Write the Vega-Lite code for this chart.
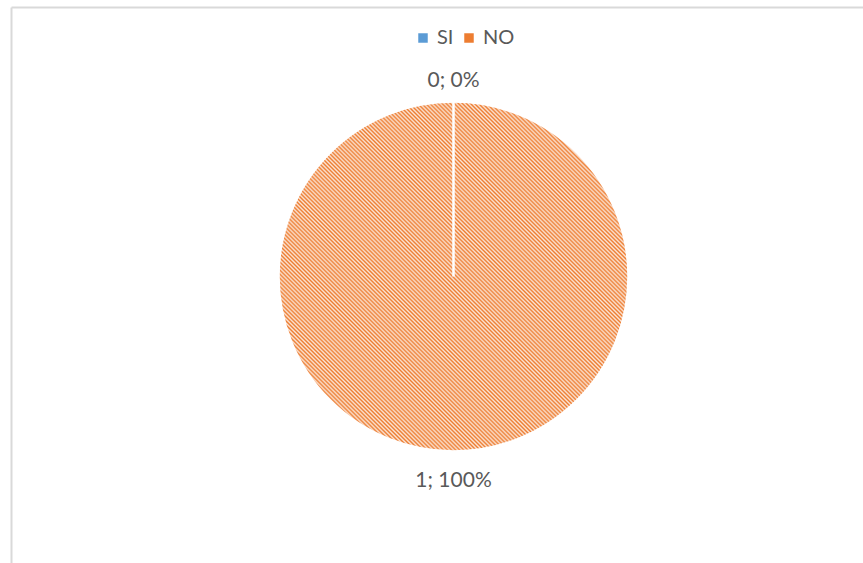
{
  "$schema": "https://vega.github.io/schema/vega-lite/v6.json",
  "width": 863,
  "height": 563,
  "autosize": {"type": "fit", "contains": "padding"},
  "padding": {"left": 11, "top": 7, "right": 0, "bottom": 0},
  "background": "white",
  "config": {"view": {"stroke": null}, "font": "Lato"},
  "data": {"values": [
    {"cat": "NO", "value": 1, "label": "1; 100%"},
    {"cat": "SI", "value": 0, "label": "0; 0%"}
  ]},
  "layer": [
    {
      "transform": [{"filter": "datum.value < 0"}],
      "mark": {"type": "square"},
      "encoding": {
        "x": {"field": "value", "type": "quantitative", "scale": {"domain": [0, 1]}, "axis": {"orient": "top", "domainColor": "#D9D9D9", "domainWidth": 2, "labels": false, "ticks": false, "grid": false, "title": null}},
        "y": {"field": "value", "type": "quantitative", "scale": {"domain": [0, 1]}, "axis": {"orient": "left", "domainColor": "#D9D9D9", "domainWidth": 2, "labels": false, "ticks": false, "grid": false, "title": null}},
        "color": {
          "field": "cat",
          "type": "nominal",
          "scale": {"domain": ["SI", "NO"], "range": ["#5B9BD5", "#ED7D31"]},
          "legend": {
            "orient": "none",
            "legendX": 402,
            "legendY": 21,
            "direction": "horizontal",
            "title": null,
            "symbolType": "square",
            "symbolSize": 90,
            "symbolStrokeWidth": 0,
            "symbolOpacity": 1,
            "labelFontSize": 20,
            "labelColor": "#595959",
            "labelFont": "Lato",
            "columnPadding": 5,
            "labelOffset": 4,
            "padding": 0
          }
        }
      }
    },
    {
      "mark": {"type": "arc", "outerRadius": 175, "stroke": "white", "strokeWidth": 2.5, "xOffset": 16.5, "yOffset": -8.5,
        "fill": {"gradient": "linear", "x1": 0, "y1": 1, "x2": 1, "y2": 0, "stops": [
{"offset":0,"color":"#ed7d31"},{"offset":0.0029,"color":"#fbe5d6"},{"offset":0.0058,"color":"#ed7d31"},{"offset":0.0087,"color":"#fbe5d6"},{"offset":0.0116,"color":"#ed7d31"},{"offset":0.0145,"color":"#fbe5d6"},{"offset":0.0174,"color":"#ed7d31"},{"offset":0.0203,"color":"#fbe5d6"},{"offset":0.0232,"color":"#ed7d31"},{"offset":0.0261,"color":"#fbe5d6"},
{"offset":0.029,"color":"#ed7d31"},{"offset":0.0319,"color":"#fbe5d6"},{"offset":0.0348,"color":"#ed7d31"},{"offset":0.0377,"color":"#fbe5d6"},{"offset":0.0406,"color":"#ed7d31"},{"offset":0.0435,"color":"#fbe5d6"},{"offset":0.0464,"color":"#ed7d31"},{"offset":0.0493,"color":"#fbe5d6"},{"offset":0.0522,"color":"#ed7d31"},{"offset":0.0551,"color":"#fbe5d6"},
{"offset":0.058,"color":"#ed7d31"},{"offset":0.0609,"color":"#fbe5d6"},{"offset":0.0638,"color":"#ed7d31"},{"offset":0.0667,"color":"#fbe5d6"},{"offset":0.0696,"color":"#ed7d31"},{"offset":0.0725,"color":"#fbe5d6"},{"offset":0.0754,"color":"#ed7d31"},{"offset":0.0783,"color":"#fbe5d6"},{"offset":0.0812,"color":"#ed7d31"},{"offset":0.0841,"color":"#fbe5d6"},
{"offset":0.087,"color":"#ed7d31"},{"offset":0.0899,"color":"#fbe5d6"},{"offset":0.0928,"color":"#ed7d31"},{"offset":0.0957,"color":"#fbe5d6"},{"offset":0.0986,"color":"#ed7d31"},{"offset":0.1015,"color":"#fbe5d6"},{"offset":0.1044,"color":"#ed7d31"},{"offset":0.1073,"color":"#fbe5d6"},{"offset":0.1102,"color":"#ed7d31"},{"offset":0.1131,"color":"#fbe5d6"},
{"offset":0.116,"color":"#ed7d31"},{"offset":0.1189,"color":"#fbe5d6"},{"offset":0.1218,"color":"#ed7d31"},{"offset":0.1247,"color":"#fbe5d6"},{"offset":0.1276,"color":"#ed7d31"},{"offset":0.1305,"color":"#fbe5d6"},{"offset":0.1334,"color":"#ed7d31"},{"offset":0.1363,"color":"#fbe5d6"},{"offset":0.1392,"color":"#ed7d31"},{"offset":0.1421,"color":"#fbe5d6"},
{"offset":0.145,"color":"#ed7d31"},{"offset":0.1479,"color":"#fbe5d6"},{"offset":0.1508,"color":"#ed7d31"},{"offset":0.1537,"color":"#fbe5d6"},{"offset":0.1566,"color":"#ed7d31"},{"offset":0.1595,"color":"#fbe5d6"},{"offset":0.1624,"color":"#ed7d31"},{"offset":0.1653,"color":"#fbe5d6"},{"offset":0.1682,"color":"#ed7d31"},{"offset":0.1711,"color":"#fbe5d6"},
{"offset":0.174,"color":"#ed7d31"},{"offset":0.1769,"color":"#fbe5d6"},{"offset":0.1798,"color":"#ed7d31"},{"offset":0.1827,"color":"#fbe5d6"},{"offset":0.1856,"color":"#ed7d31"},{"offset":0.1885,"color":"#fbe5d6"},{"offset":0.1914,"color":"#ed7d31"},{"offset":0.1943,"color":"#fbe5d6"},{"offset":0.1972,"color":"#ed7d31"},{"offset":0.2001,"color":"#fbe5d6"},
{"offset":0.203,"color":"#ed7d31"},{"offset":0.2059,"color":"#fbe5d6"},{"offset":0.2088,"color":"#ed7d31"},{"offset":0.2117,"color":"#fbe5d6"},{"offset":0.2146,"color":"#ed7d31"},{"offset":0.2175,"color":"#fbe5d6"},{"offset":0.2204,"color":"#ed7d31"},{"offset":0.2233,"color":"#fbe5d6"},{"offset":0.2262,"color":"#ed7d31"},{"offset":0.2291,"color":"#fbe5d6"},
{"offset":0.232,"color":"#ed7d31"},{"offset":0.2349,"color":"#fbe5d6"},{"offset":0.2378,"color":"#ed7d31"},{"offset":0.2407,"color":"#fbe5d6"},{"offset":0.2436,"color":"#ed7d31"},{"offset":0.2465,"color":"#fbe5d6"},{"offset":0.2494,"color":"#ed7d31"},{"offset":0.2523,"color":"#fbe5d6"},{"offset":0.2552,"color":"#ed7d31"},{"offset":0.2581,"color":"#fbe5d6"},
{"offset":0.261,"color":"#ed7d31"},{"offset":0.2639,"color":"#fbe5d6"},{"offset":0.2668,"color":"#ed7d31"},{"offset":0.2697,"color":"#fbe5d6"},{"offset":0.2726,"color":"#ed7d31"},{"offset":0.2755,"color":"#fbe5d6"},{"offset":0.2784,"color":"#ed7d31"},{"offset":0.2813,"color":"#fbe5d6"},{"offset":0.2842,"color":"#ed7d31"},{"offset":0.2871,"color":"#fbe5d6"},
{"offset":0.29,"color":"#ed7d31"},{"offset":0.2929,"color":"#fbe5d6"},{"offset":0.2958,"color":"#ed7d31"},{"offset":0.2987,"color":"#fbe5d6"},{"offset":0.3016,"color":"#ed7d31"},{"offset":0.3045,"color":"#fbe5d6"},{"offset":0.3074,"color":"#ed7d31"},{"offset":0.3103,"color":"#fbe5d6"},{"offset":0.3132,"color":"#ed7d31"},{"offset":0.3161,"color":"#fbe5d6"},
{"offset":0.319,"color":"#ed7d31"},{"offset":0.3219,"color":"#fbe5d6"},{"offset":0.3248,"color":"#ed7d31"},{"offset":0.3277,"color":"#fbe5d6"},{"offset":0.3306,"color":"#ed7d31"},{"offset":0.3335,"color":"#fbe5d6"},{"offset":0.3364,"color":"#ed7d31"},{"offset":0.3393,"color":"#fbe5d6"},{"offset":0.3422,"color":"#ed7d31"},{"offset":0.3451,"color":"#fbe5d6"},
{"offset":0.348,"color":"#ed7d31"},{"offset":0.3509,"color":"#fbe5d6"},{"offset":0.3538,"color":"#ed7d31"},{"offset":0.3567,"color":"#fbe5d6"},{"offset":0.3596,"color":"#ed7d31"},{"offset":0.3625,"color":"#fbe5d6"},{"offset":0.3654,"color":"#ed7d31"},{"offset":0.3683,"color":"#fbe5d6"},{"offset":0.3712,"color":"#ed7d31"},{"offset":0.3741,"color":"#fbe5d6"},
{"offset":0.377,"color":"#ed7d31"},{"offset":0.3799,"color":"#fbe5d6"},{"offset":0.3828,"color":"#ed7d31"},{"offset":0.3857,"color":"#fbe5d6"},{"offset":0.3886,"color":"#ed7d31"},{"offset":0.3915,"color":"#fbe5d6"},{"offset":0.3944,"color":"#ed7d31"},{"offset":0.3973,"color":"#fbe5d6"},{"offset":0.4002,"color":"#ed7d31"},{"offset":0.4031,"color":"#fbe5d6"},
{"offset":0.406,"color":"#ed7d31"},{"offset":0.4089,"color":"#fbe5d6"},{"offset":0.4118,"color":"#ed7d31"},{"offset":0.4147,"color":"#fbe5d6"},{"offset":0.4176,"color":"#ed7d31"},{"offset":0.4205,"color":"#fbe5d6"},{"offset":0.4234,"color":"#ed7d31"},{"offset":0.4263,"color":"#fbe5d6"},{"offset":0.4292,"color":"#ed7d31"},{"offset":0.4321,"color":"#fbe5d6"},
{"offset":0.435,"color":"#ed7d31"},{"offset":0.4379,"color":"#fbe5d6"},{"offset":0.4408,"color":"#ed7d31"},{"offset":0.4437,"color":"#fbe5d6"},{"offset":0.4466,"color":"#ed7d31"},{"offset":0.4495,"color":"#fbe5d6"},{"offset":0.4524,"color":"#ed7d31"},{"offset":0.4553,"color":"#fbe5d6"},{"offset":0.4582,"color":"#ed7d31"},{"offset":0.4611,"color":"#fbe5d6"},
{"offset":0.464,"color":"#ed7d31"},{"offset":0.4669,"color":"#fbe5d6"},{"offset":0.4698,"color":"#ed7d31"},{"offset":0.4727,"color":"#fbe5d6"},{"offset":0.4756,"color":"#ed7d31"},{"offset":0.4785,"color":"#fbe5d6"},{"offset":0.4814,"color":"#ed7d31"},{"offset":0.4843,"color":"#fbe5d6"},{"offset":0.4872,"color":"#ed7d31"},{"offset":0.4901,"color":"#fbe5d6"},
{"offset":0.493,"color":"#ed7d31"},{"offset":0.4959,"color":"#fbe5d6"},{"offset":0.4988,"color":"#ed7d31"},{"offset":0.5017,"color":"#fbe5d6"},{"offset":0.5046,"color":"#ed7d31"},{"offset":0.5075,"color":"#fbe5d6"},{"offset":0.5104,"color":"#ed7d31"},{"offset":0.5133,"color":"#fbe5d6"},{"offset":0.5162,"color":"#ed7d31"},{"offset":0.5191,"color":"#fbe5d6"},
{"offset":0.522,"color":"#ed7d31"},{"offset":0.5249,"color":"#fbe5d6"},{"offset":0.5278,"color":"#ed7d31"},{"offset":0.5307,"color":"#fbe5d6"},{"offset":0.5336,"color":"#ed7d31"},{"offset":0.5365,"color":"#fbe5d6"},{"offset":0.5394,"color":"#ed7d31"},{"offset":0.5423,"color":"#fbe5d6"},{"offset":0.5452,"color":"#ed7d31"},{"offset":0.5481,"color":"#fbe5d6"},
{"offset":0.551,"color":"#ed7d31"},{"offset":0.5539,"color":"#fbe5d6"},{"offset":0.5568,"color":"#ed7d31"},{"offset":0.5597,"color":"#fbe5d6"},{"offset":0.5626,"color":"#ed7d31"},{"offset":0.5655,"color":"#fbe5d6"},{"offset":0.5684,"color":"#ed7d31"},{"offset":0.5713,"color":"#fbe5d6"},{"offset":0.5742,"color":"#ed7d31"},{"offset":0.5771,"color":"#fbe5d6"},
{"offset":0.58,"color":"#ed7d31"},{"offset":0.5829,"color":"#fbe5d6"},{"offset":0.5858,"color":"#ed7d31"},{"offset":0.5887,"color":"#fbe5d6"},{"offset":0.5916,"color":"#ed7d31"},{"offset":0.5945,"color":"#fbe5d6"},{"offset":0.5974,"color":"#ed7d31"},{"offset":0.6003,"color":"#fbe5d6"},{"offset":0.6032,"color":"#ed7d31"},{"offset":0.6061,"color":"#fbe5d6"},
{"offset":0.609,"color":"#ed7d31"},{"offset":0.6119,"color":"#fbe5d6"},{"offset":0.6148,"color":"#ed7d31"},{"offset":0.6177,"color":"#fbe5d6"},{"offset":0.6206,"color":"#ed7d31"},{"offset":0.6235,"color":"#fbe5d6"},{"offset":0.6264,"color":"#ed7d31"},{"offset":0.6293,"color":"#fbe5d6"},{"offset":0.6322,"color":"#ed7d31"},{"offset":0.6351,"color":"#fbe5d6"},
{"offset":0.638,"color":"#ed7d31"},{"offset":0.6409,"color":"#fbe5d6"},{"offset":0.6438,"color":"#ed7d31"},{"offset":0.6467,"color":"#fbe5d6"},{"offset":0.6496,"color":"#ed7d31"},{"offset":0.6525,"color":"#fbe5d6"},{"offset":0.6554,"color":"#ed7d31"},{"offset":0.6583,"color":"#fbe5d6"},{"offset":0.6612,"color":"#ed7d31"},{"offset":0.6641,"color":"#fbe5d6"},
{"offset":0.667,"color":"#ed7d31"},{"offset":0.6699,"color":"#fbe5d6"},{"offset":0.6728,"color":"#ed7d31"},{"offset":0.6757,"color":"#fbe5d6"},{"offset":0.6786,"color":"#ed7d31"},{"offset":0.6815,"color":"#fbe5d6"},{"offset":0.6844,"color":"#ed7d31"},{"offset":0.6873,"color":"#fbe5d6"},{"offset":0.6902,"color":"#ed7d31"},{"offset":0.6931,"color":"#fbe5d6"},
{"offset":0.696,"color":"#ed7d31"},{"offset":0.6989,"color":"#fbe5d6"},{"offset":0.7018,"color":"#ed7d31"},{"offset":0.7047,"color":"#fbe5d6"},{"offset":0.7076,"color":"#ed7d31"},{"offset":0.7105,"color":"#fbe5d6"},{"offset":0.7134,"color":"#ed7d31"},{"offset":0.7163,"color":"#fbe5d6"},{"offset":0.7192,"color":"#ed7d31"},{"offset":0.7221,"color":"#fbe5d6"},
{"offset":0.725,"color":"#ed7d31"},{"offset":0.7279,"color":"#fbe5d6"},{"offset":0.7308,"color":"#ed7d31"},{"offset":0.7337,"color":"#fbe5d6"},{"offset":0.7366,"color":"#ed7d31"},{"offset":0.7395,"color":"#fbe5d6"},{"offset":0.7424,"color":"#ed7d31"},{"offset":0.7453,"color":"#fbe5d6"},{"offset":0.7482,"color":"#ed7d31"},{"offset":0.7511,"color":"#fbe5d6"},
{"offset":0.754,"color":"#ed7d31"},{"offset":0.7569,"color":"#fbe5d6"},{"offset":0.7598,"color":"#ed7d31"},{"offset":0.7627,"color":"#fbe5d6"},{"offset":0.7656,"color":"#ed7d31"},{"offset":0.7685,"color":"#fbe5d6"},{"offset":0.7714,"color":"#ed7d31"},{"offset":0.7743,"color":"#fbe5d6"},{"offset":0.7772,"color":"#ed7d31"},{"offset":0.7801,"color":"#fbe5d6"},
{"offset":0.783,"color":"#ed7d31"},{"offset":0.7859,"color":"#fbe5d6"},{"offset":0.7888,"color":"#ed7d31"},{"offset":0.7917,"color":"#fbe5d6"},{"offset":0.7946,"color":"#ed7d31"},{"offset":0.7975,"color":"#fbe5d6"},{"offset":0.8004,"color":"#ed7d31"},{"offset":0.8033,"color":"#fbe5d6"},{"offset":0.8062,"color":"#ed7d31"},{"offset":0.8091,"color":"#fbe5d6"},
{"offset":0.812,"color":"#ed7d31"},{"offset":0.8149,"color":"#fbe5d6"},{"offset":0.8178,"color":"#ed7d31"},{"offset":0.8207,"color":"#fbe5d6"},{"offset":0.8236,"color":"#ed7d31"},{"offset":0.8265,"color":"#fbe5d6"},{"offset":0.8294,"color":"#ed7d31"},{"offset":0.8323,"color":"#fbe5d6"},{"offset":0.8352,"color":"#ed7d31"},{"offset":0.8381,"color":"#fbe5d6"},
{"offset":0.841,"color":"#ed7d31"},{"offset":0.8439,"color":"#fbe5d6"},{"offset":0.8468,"color":"#ed7d31"},{"offset":0.8497,"color":"#fbe5d6"},{"offset":0.8526,"color":"#ed7d31"},{"offset":0.8555,"color":"#fbe5d6"},{"offset":0.8584,"color":"#ed7d31"},{"offset":0.8613,"color":"#fbe5d6"},{"offset":0.8642,"color":"#ed7d31"},{"offset":0.8671,"color":"#fbe5d6"},
{"offset":0.87,"color":"#ed7d31"},{"offset":0.8729,"color":"#fbe5d6"},{"offset":0.8758,"color":"#ed7d31"},{"offset":0.8787,"color":"#fbe5d6"},{"offset":0.8816,"color":"#ed7d31"},{"offset":0.8845,"color":"#fbe5d6"},{"offset":0.8874,"color":"#ed7d31"},{"offset":0.8903,"color":"#fbe5d6"},{"offset":0.8932,"color":"#ed7d31"},{"offset":0.8961,"color":"#fbe5d6"},
{"offset":0.899,"color":"#ed7d31"},{"offset":0.9019,"color":"#fbe5d6"},{"offset":0.9048,"color":"#ed7d31"},{"offset":0.9077,"color":"#fbe5d6"},{"offset":0.9106,"color":"#ed7d31"},{"offset":0.9135,"color":"#fbe5d6"},{"offset":0.9164,"color":"#ed7d31"},{"offset":0.9193,"color":"#fbe5d6"},{"offset":0.9222,"color":"#ed7d31"},{"offset":0.9251,"color":"#fbe5d6"},
{"offset":0.928,"color":"#ed7d31"},{"offset":0.9309,"color":"#fbe5d6"},{"offset":0.9338,"color":"#ed7d31"},{"offset":0.9367,"color":"#fbe5d6"},{"offset":0.9396,"color":"#ed7d31"},{"offset":0.9425,"color":"#fbe5d6"},{"offset":0.9454,"color":"#ed7d31"},{"offset":0.9483,"color":"#fbe5d6"},{"offset":0.9512,"color":"#ed7d31"},{"offset":0.9541,"color":"#fbe5d6"},
{"offset":0.957,"color":"#ed7d31"},{"offset":0.9599,"color":"#fbe5d6"},{"offset":0.9628,"color":"#ed7d31"},{"offset":0.9657,"color":"#fbe5d6"},{"offset":0.9686,"color":"#ed7d31"},{"offset":0.9715,"color":"#fbe5d6"},{"offset":0.9744,"color":"#ed7d31"},{"offset":0.9773,"color":"#fbe5d6"},{"offset":0.9802,"color":"#ed7d31"},{"offset":0.9831,"color":"#fbe5d6"},
{"offset":0.986,"color":"#ed7d31"},{"offset":0.9889,"color":"#fbe5d6"},{"offset":0.9918,"color":"#ed7d31"},{"offset":0.9947,"color":"#fbe5d6"},{"offset":0.9976,"color":"#ed7d31"},{"offset":1,"color":"#fbe5d6"}
        ]}
      },
      "encoding": {
        "theta": {"field": "value", "type": "quantitative", "stack": true},
        "detail": {"field": "cat", "type": "nominal"}
      }
    },
    {
      "mark": {"type": "text", "radius": 200, "fontSize": 21, "font": "Lato", "color": "#595959", "baseline": "middle", "align": "center", "xOffset": 16.5, "yOffset": -4.5},
      "encoding": {
        "theta": {"field": "value", "type": "quantitative", "stack": true},
        "detail": {"field": "cat", "type": "nominal"},
        "text": {"field": "label", "type": "nominal"}
      }
    }
  ]
}
